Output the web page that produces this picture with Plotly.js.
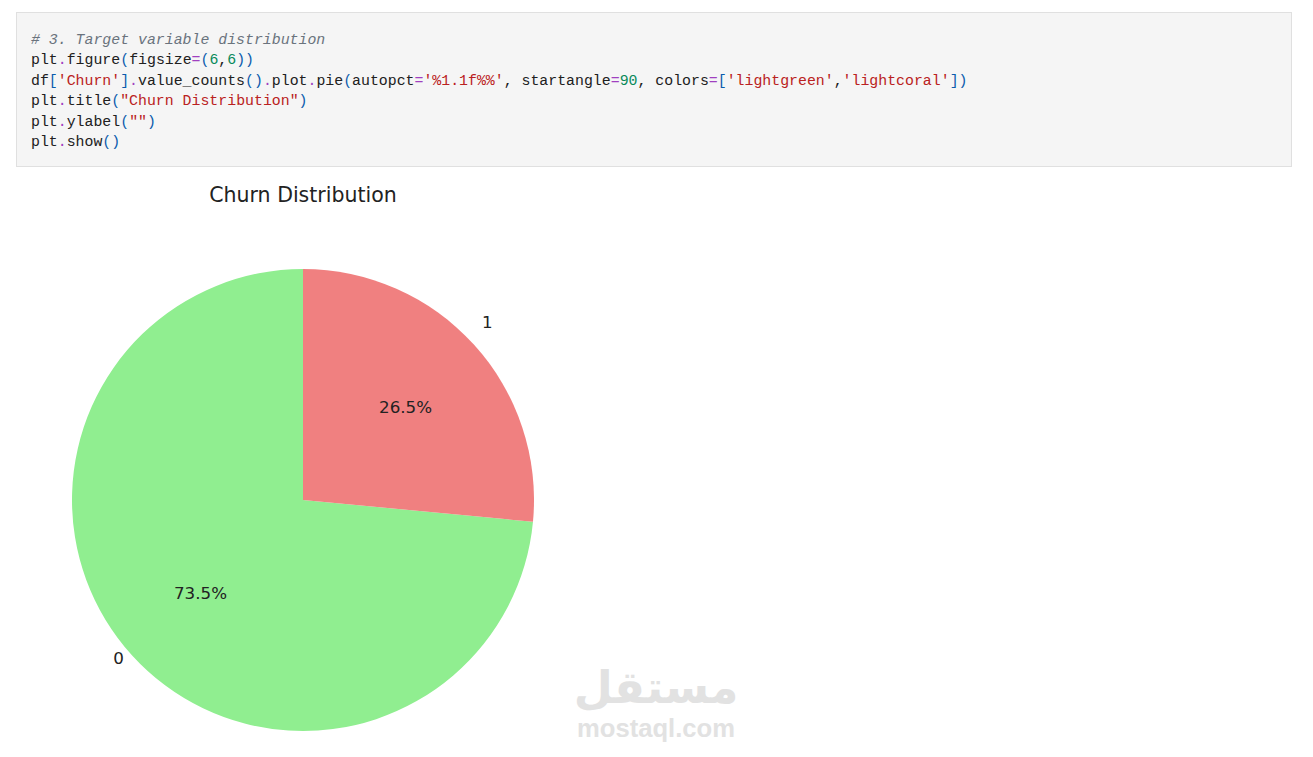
<!DOCTYPE html>
<html>
<head>
<meta charset="utf-8">
<script src="https://cdn.plot.ly/plotly-3.0.1.min.js"></script>
<style>
  html, body { margin:0; padding:0; background:#ffffff; width:1313px; height:757px; overflow:hidden; }
  #plot { position:absolute; left:0; top:0; width:1313px; height:757px; }
  #cell { position:absolute; left:16px; top:12px; width:1274px; height:153px; background:#f5f5f5; border:1px solid #e0e0e0; box-sizing:content-box; }
  #code { position:absolute; left:14px; top:17px; margin:0; font-family:"Liberation Mono","DejaVu Sans Mono",monospace; font-size:14.87px; line-height:20.4px; color:#202020; white-space:pre; }
  .c { color:#6a737d; font-style:italic; }
  .o { color:#a040c0; }
  .b { color:#0b5cad; }
  .n { color:#088a5a; }
  .s { color:#ba2121; }
  #wm1 { position:absolute; left:556px; top:661px; width:200px; text-align:center; font-family:"DejaVu Sans",sans-serif; font-weight:bold; font-size:45px; color:#e2e2e2; direction:rtl; }
  #wm2 { position:absolute; left:556px; top:714px; width:200px; text-align:center; font-family:"Liberation Sans",Arial,sans-serif; font-weight:bold; font-size:25.6px; color:#e2e2e2; }
</style>
</head>
<body>
<div id="plot"></div>
<div id="cell"><pre id="code"><span class="c"># 3. Target variable distribution</span>
plt<span class="o">.</span>figure<span class="b">(</span>figsize<span class="o">=</span><span class="b">(</span><span class="n">6</span>,<span class="n">6</span><span class="b">))</span>
df<span class="b">[</span><span class="s">'Churn'</span><span class="b">]</span><span class="o">.</span>value_counts<span class="b">()</span><span class="o">.</span>plot<span class="o">.</span>pie<span class="b">(</span>autopct<span class="o">=</span><span class="s">'%1.1f%%'</span>, startangle<span class="o">=</span><span class="n">90</span>, colors<span class="o">=</span><span class="b">[</span><span class="s">'lightgreen'</span>,<span class="s">'lightcoral'</span><span class="b">])</span>
plt<span class="o">.</span>title<span class="b">(</span><span class="s">"Churn Distribution"</span><span class="b">)</span>
plt<span class="o">.</span>ylabel<span class="b">(</span><span class="s">""</span><span class="b">)</span>
plt<span class="o">.</span>show<span class="b">()</span></pre></div>
<div id="wm1">مستقل</div>
<div id="wm2">mostaql.com</div>
<script>
// Data
const categories = ['0', '1'];
const churnPercent = [73.5, 26.5];
const sliceColors = ['#90EE90', '#F08080'];
const chartTitle = 'Churn Distribution';

// Geometry (layout only)
const W = 1313, H = 757;
const cx = 303, cy = 500, R = 231;
function dom(rr) {
  return { x: [(cx - rr) / W, (cx + rr) / W], y: [(H - cy - rr) / H, (H - cy + rr) / H] };
}
const txtFont = { family: 'DejaVu Sans, sans-serif', size: 16.7, color: '#222222' };
const clear = ['rgba(0,0,0,0)', 'rgba(0,0,0,0)'];
// matplotlib startangle=90, counterclockwise: first slice starts at 12 o'clock going left.
// Plotly's counterclockwise puts the first slice's end at `rotation`, so offset by its share.
const total = churnPercent.reduce((a, b) => a + b, 0);
const dir = 'counterclockwise';
const rot = -churnPercent[0] / total * 360;

const mainPie = {
  type: 'pie', labels: categories, values: churnPercent, sort: false,
  direction: dir, rotation: rot,
  marker: { colors: sliceColors, line: { width: 0 } },
  textinfo: 'none', hoverinfo: 'label+percent', showlegend: false,
  domain: dom(R)
};
const pctRing = {
  type: 'pie', labels: categories, values: churnPercent, sort: false,
  direction: dir, rotation: rot, hole: 0.5,
  marker: { colors: clear, line: { width: 0 } },
  texttemplate: '%{percent:.1%}', textposition: 'inside', insidetextorientation: 'horizontal',
  insidetextfont: txtFont, textfont: txtFont, hoverinfo: 'skip', showlegend: false,
  domain: dom(R * 0.8)
};
const labelRing = {
  type: 'pie', labels: categories, values: churnPercent, sort: false,
  direction: dir, rotation: rot, hole: 1.04 / 1.2,
  marker: { colors: clear, line: { width: 0 } },
  texttemplate: '%{label}', textposition: 'inside', insidetextorientation: 'horizontal',
  insidetextfont: txtFont, textfont: txtFont, hoverinfo: 'skip', showlegend: false,
  domain: dom(R * 1.2)
};

const layout = {
  width: W, height: H,
  margin: { l: 0, r: 0, t: 0, b: 0, pad: 0 },
  paper_bgcolor: 'rgba(0,0,0,0)', plot_bgcolor: 'rgba(0,0,0,0)',
  showlegend: false,
  title: {
    text: chartTitle, x: cx / W, xanchor: 'center', xref: 'paper',
    y: 1 - 195 / H, yanchor: 'middle', yref: 'container',
    font: { family: 'DejaVu Sans, sans-serif', size: 20.5, color: '#222222' }
  }
};
Plotly.newPlot('plot', [mainPie, pctRing, labelRing], layout, { displayModeBar: false, staticPlot: true });
</script>
</body>
</html>
